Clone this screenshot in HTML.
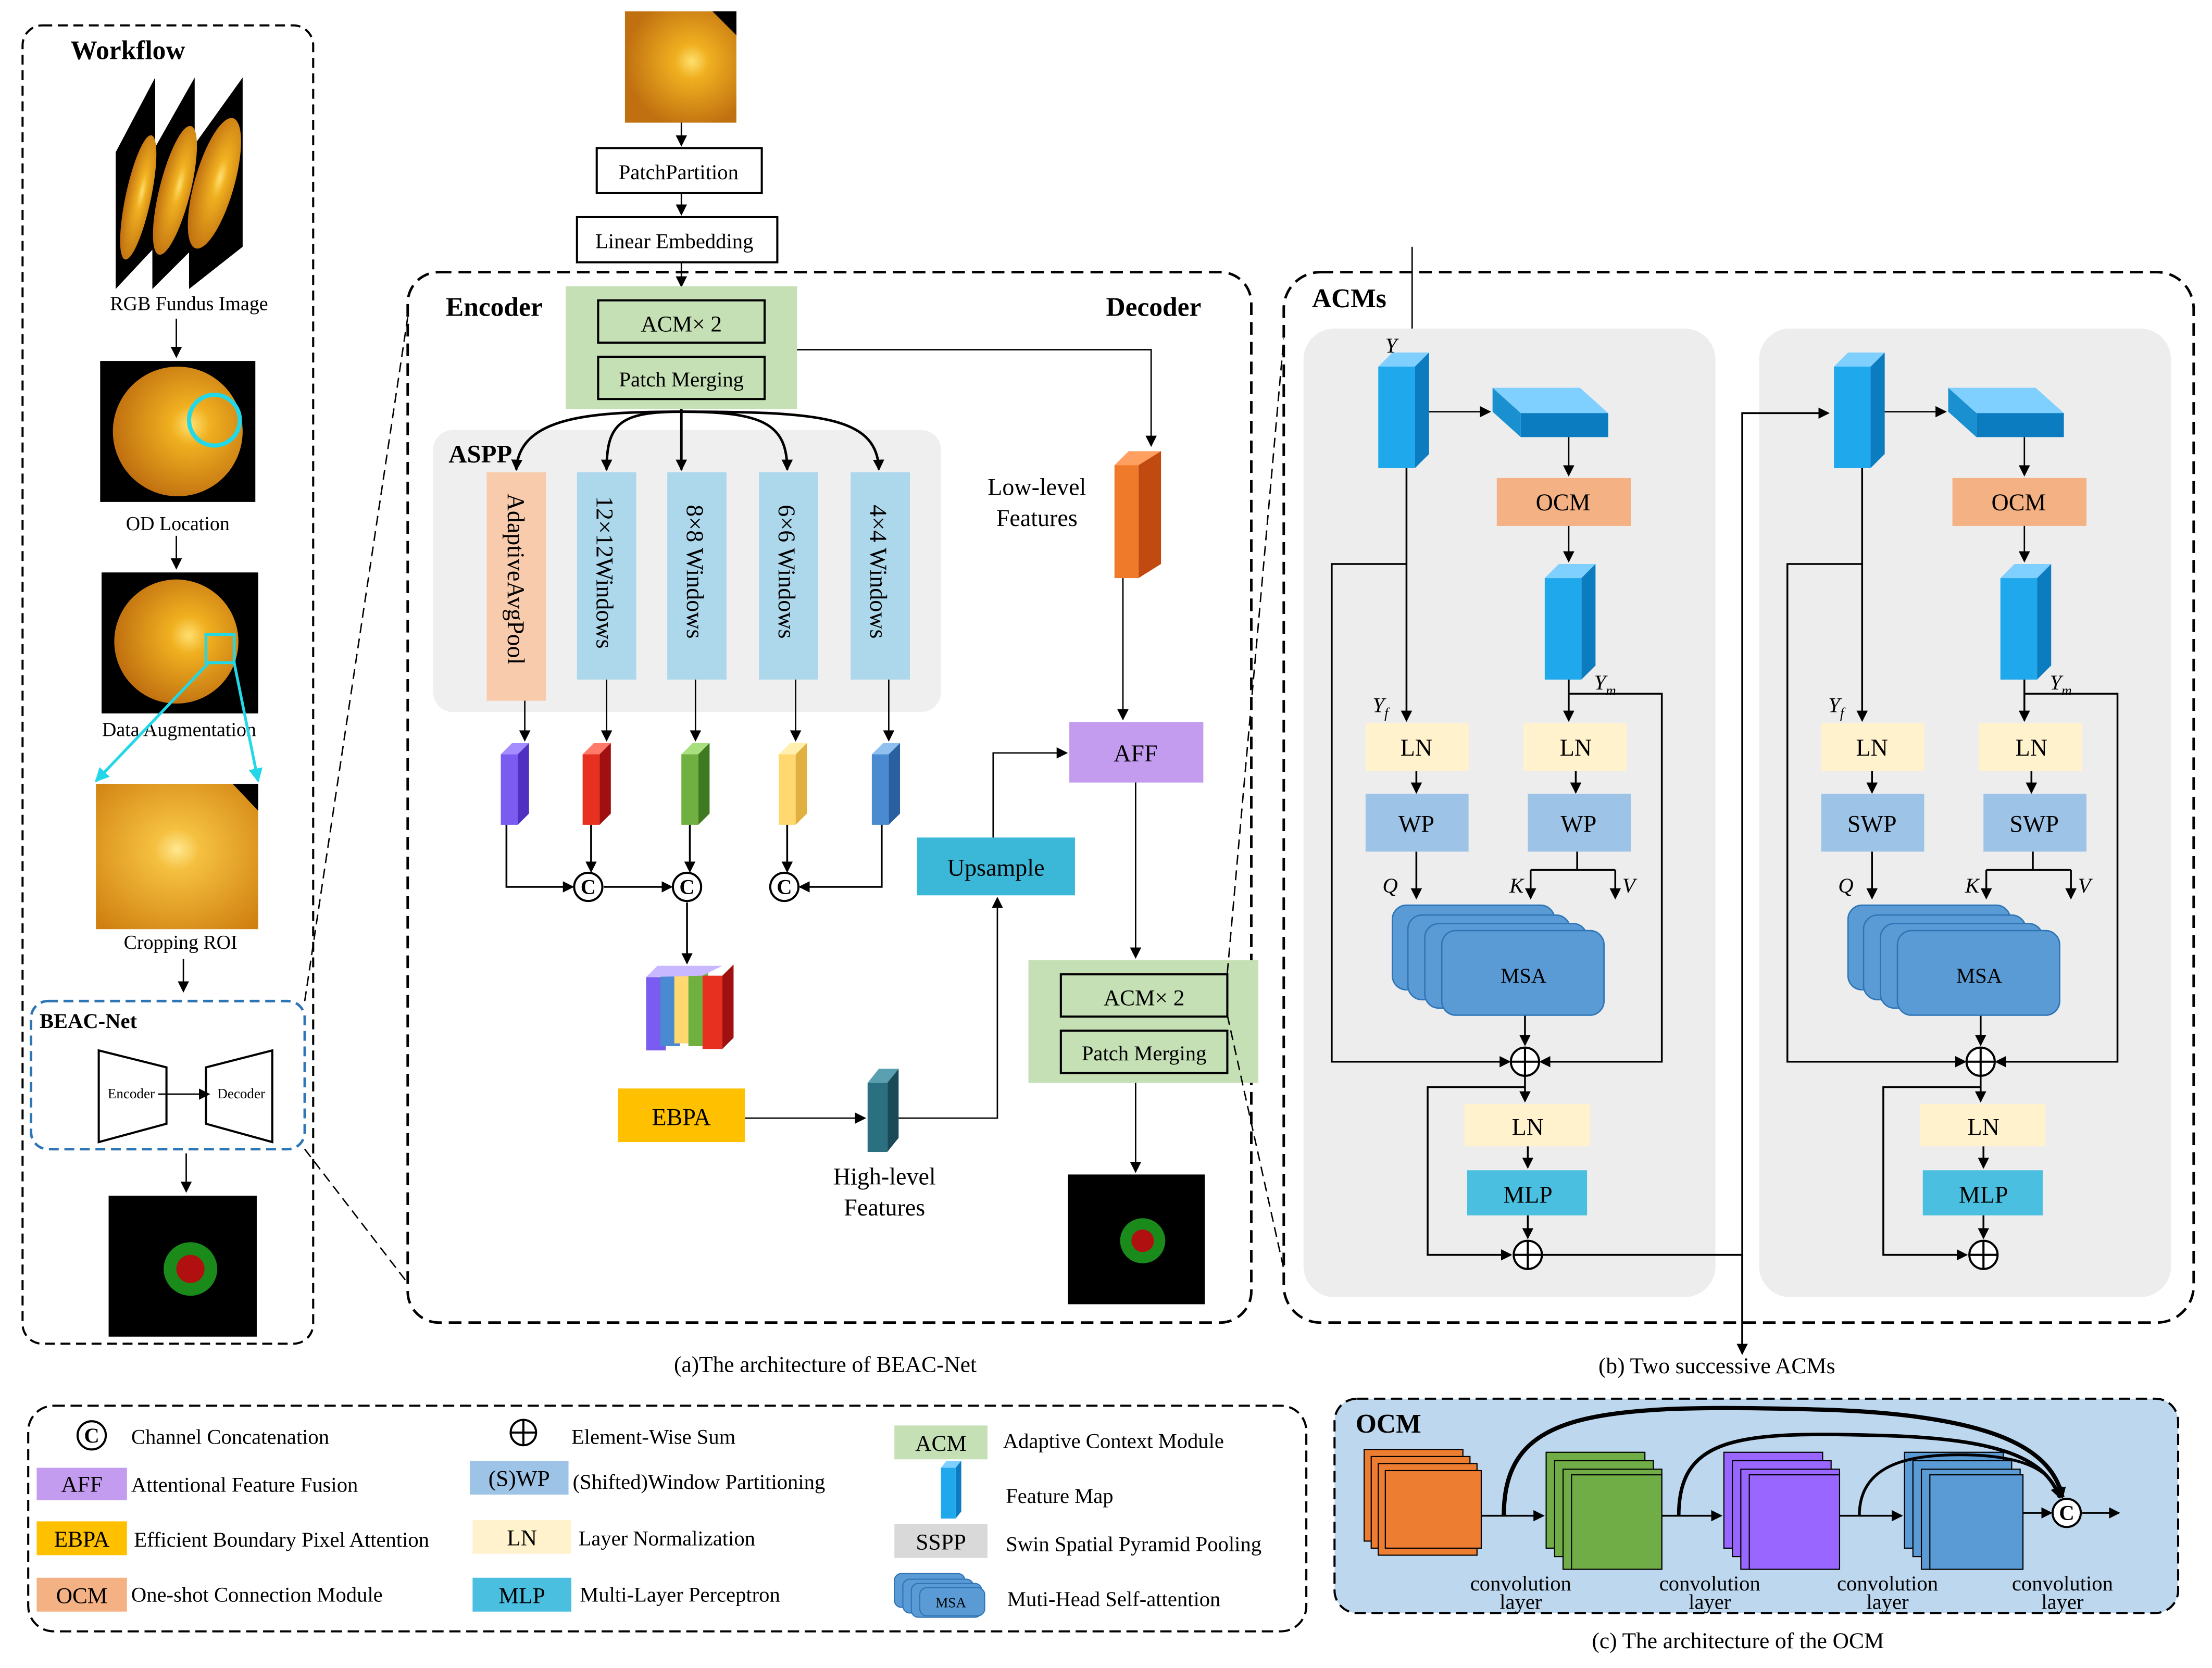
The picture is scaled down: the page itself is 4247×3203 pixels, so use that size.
<!DOCTYPE html>
<html><head><meta charset="utf-8"><style>
html,body{margin:0;padding:0;background:#fff}
svg{display:block}
text{font-family:"Liberation Serif",serif;fill:#000}
</style></head><body>
<svg width="4247" height="3203" viewBox="0 0 1568 1183" preserveAspectRatio="none" xmlns="http://www.w3.org/2000/svg">
<defs>
<marker id="a" markerWidth="8" markerHeight="8" refX="7" refY="4" orient="auto" markerUnits="userSpaceOnUse"><path d="M0,0 L8,4 L0,8 z" fill="#000"/></marker>
<marker id="ac" markerWidth="10" markerHeight="10" refX="9" refY="5" orient="auto" markerUnits="userSpaceOnUse"><path d="M0,0 L10,5 L0,10 z" fill="#22d8e8"/></marker>
<radialGradient id="fund" cx="0.6" cy="0.45" r="0.6"><stop offset="0" stop-color="#ffe070"/><stop offset="0.25" stop-color="#f0b020"/><stop offset="1" stop-color="#c07010"/></radialGradient>
<radialGradient id="crop" cx="0.5" cy="0.45" r="0.7"><stop offset="0" stop-color="#ffe890"/><stop offset="0.2" stop-color="#f5c040"/><stop offset="1" stop-color="#d08010"/></radialGradient>
<g id="cubeB"><path d="M0,10 L10,0 L36,0 L26,10z" fill="#7fd0ff"/><path d="M26,10 L36,0 L36,72 L26,82z" fill="#0c7cc0"/><rect x="0" y="10" width="26" height="72" fill="#20a8ec"/></g>
</defs>
<rect width="1568" height="1183" fill="#fff"/>

<!-- LEFT WORKFLOW -->
<rect x="16" y="18" width="206" height="935" rx="14" fill="none" stroke="#000" stroke-width="1.5" stroke-dasharray="7,4"/>
<text x="50" y="42" font-size="19" font-weight="bold">Workflow</text>
<path d="M82,108 L110,55 L110,175 L82,205z" fill="#000"/>
<path d="M108,108 L138,55 L138,175 L108,205z" fill="#000"/>
<path d="M134,108 L172,55 L172,175 L134,205z" fill="#000"/>
<ellipse cx="98" cy="140" rx="9" ry="45" fill="url(#fund)" transform="rotate(12 98 140)"/>
<ellipse cx="124" cy="135" rx="11" ry="47" fill="url(#fund)" transform="rotate(14 124 135)"/>
<ellipse cx="152" cy="130" rx="14" ry="48" fill="url(#fund)" transform="rotate(16 152 130)"/>
<text x="134" y="220" font-size="14" text-anchor="middle">RGB Fundus Image</text>
<line x1="125" y1="226" x2="125" y2="253" stroke="#000" marker-end="url(#a)"/>
<rect x="71" y="256" width="110" height="100" fill="#000"/>
<circle cx="126" cy="306" r="46" fill="url(#fund)"/>
<circle cx="152" cy="298" r="18" fill="none" stroke="#22d8e8" stroke-width="3"/>
<text x="126" y="376" font-size="14" text-anchor="middle">OD Location</text>
<line x1="125" y1="380" x2="125" y2="403" stroke="#000" marker-end="url(#a)"/>
<rect x="72" y="406" width="111" height="100" fill="#000"/>
<circle cx="125" cy="455" r="44" fill="url(#fund)"/>
<rect x="146" y="450" width="20" height="20" fill="none" stroke="#22d8e8" stroke-width="2"/>
<text x="127" y="522" font-size="14" text-anchor="middle">Data Augmentation</text>
<line x1="148" y1="470" x2="68" y2="554" stroke="#22d8e8" stroke-width="2" marker-end="url(#ac)"/>
<line x1="166" y1="470" x2="183" y2="554" stroke="#22d8e8" stroke-width="2" marker-end="url(#ac)"/>
<rect x="68" y="556" width="115" height="103" fill="url(#crop)"/>
<path d="M165,556 L183,556 L183,575z" fill="#000"/>
<text x="128" y="673" font-size="14" text-anchor="middle">Cropping ROI</text>
<line x1="130" y1="680" x2="130" y2="703" stroke="#000" marker-end="url(#a)"/>
<rect x="22" y="710" width="194" height="105" rx="12" fill="none" stroke="#2e75b6" stroke-width="1.8" stroke-dasharray="7,4"/>
<text x="28" y="729" font-size="15" font-weight="bold">BEAC-Net</text>
<path d="M70,745 L118,757 L118,797 L70,810z" fill="#fff" stroke="#000" stroke-width="1.5"/>
<path d="M146,757 L193,745 L193,810 L146,797z" fill="#fff" stroke="#000" stroke-width="1.5"/>
<text x="93" y="779" font-size="10" text-anchor="middle">Encoder</text>
<text x="171" y="779" font-size="10" text-anchor="middle">Decoder</text>
<line x1="112" y1="776" x2="148" y2="776" stroke="#000" marker-end="url(#a)"/>
<line x1="132" y1="818" x2="132" y2="845" stroke="#000" marker-end="url(#a)"/>
<rect x="77" y="848" width="105" height="100" fill="#000"/>
<circle cx="135" cy="900" r="19" fill="#1a8a1a"/><circle cx="135" cy="900" r="10" fill="#b01010"/>
<line x1="216" y1="710" x2="289" y2="225" stroke="#000" stroke-dasharray="7,4"/>
<line x1="216" y1="815" x2="289" y2="910" stroke="#000" stroke-dasharray="7,4"/>

<!-- MIDDLE -->
<rect x="443" y="8" width="79" height="79" fill="url(#fund)"/>
<path d="M505,8 L522,8 L522,25z" fill="#000"/>
<line x1="483" y1="87" x2="483" y2="103" stroke="#000" marker-end="url(#a)"/>
<rect x="423" y="105" width="117" height="32" fill="#fff" stroke="#000" stroke-width="1.5"/>
<text x="481" y="127" font-size="15" text-anchor="middle">PatchPartition</text>
<line x1="483" y1="137" x2="483" y2="152" stroke="#000" marker-end="url(#a)"/>
<rect x="409" y="154" width="142" height="32" fill="#fff" stroke="#000" stroke-width="1.5"/>
<text x="478" y="176" font-size="15" text-anchor="middle">Linear Embedding</text>
<line x1="483" y1="186" x2="483" y2="203" stroke="#000" marker-end="url(#a)"/>
<rect x="289" y="193" width="598" height="745" rx="22" fill="none" stroke="#000" stroke-width="1.8" stroke-dasharray="9,5"/>
<text x="316" y="224" font-size="19" font-weight="bold">Encoder</text>
<text x="784" y="224" font-size="19" font-weight="bold">Decoder</text>
<rect x="401" y="203" width="164" height="87" fill="#c5e0b4"/>
<rect x="424" y="213" width="118" height="30" fill="none" stroke="#000" stroke-width="1.5"/>
<text x="483" y="235" font-size="16" text-anchor="middle">ACM× 2</text>
<rect x="424" y="253" width="118" height="30" fill="none" stroke="#000" stroke-width="1.5"/>
<text x="483" y="274" font-size="15" text-anchor="middle">Patch Merging</text>
<polyline points="565,248 816,248 816,316" fill="none" stroke="#000" marker-end="url(#a)"/>
<rect x="307" y="305" width="360" height="200" rx="14" fill="#efefef"/>
<text x="318" y="328" font-size="18" font-weight="bold">ASPP</text>
<path d="M483,292 C420,292 368,295 366,333" fill="none" stroke="#000" stroke-width="1.8" marker-end="url(#a)"/>
<path d="M483,292 C440,292 430,300 430,333" fill="none" stroke="#000" stroke-width="1.8" marker-end="url(#a)"/>
<line x1="483" y1="290" x2="483" y2="333" stroke="#000" stroke-width="1.8" marker-end="url(#a)"/>
<path d="M483,292 C540,292 558,300 558,333" fill="none" stroke="#000" stroke-width="1.8" marker-end="url(#a)"/>
<path d="M483,292 C580,292 622,295 623,333" fill="none" stroke="#000" stroke-width="1.8" marker-end="url(#a)"/>
<rect x="345" y="335" width="42" height="162" fill="#f8cbad"/>
<rect x="409" y="335" width="42" height="147" fill="#add8ec"/>
<rect x="473" y="335" width="42" height="147" fill="#add8ec"/>
<rect x="538" y="335" width="42" height="147" fill="#add8ec"/>
<rect x="603" y="335" width="42" height="147" fill="#add8ec"/>
<g font-size="17">
<text transform="translate(360,350) rotate(90)">AdaptiveAvgPool</text>
<text transform="translate(423,352) rotate(90)">12×12Windows</text>
<text transform="translate(487,358) rotate(90)">8×8 Windows</text>
<text transform="translate(552,358) rotate(90)">6×6 Windows</text>
<text transform="translate(617,358) rotate(90)">4×4 Windows</text>
</g>
<g stroke="#000" fill="none">
<line x1="372" y1="497" x2="372" y2="525" marker-end="url(#a)"/>
<line x1="430" y1="482" x2="430" y2="525" marker-end="url(#a)"/>
<line x1="493" y1="482" x2="493" y2="525" marker-end="url(#a)"/>
<line x1="564" y1="482" x2="564" y2="525" marker-end="url(#a)"/>
<line x1="630" y1="482" x2="630" y2="525" marker-end="url(#a)"/>
</g>
<g>
<path d="M355,535 L363,527 L375,527 L367,535z" fill="#a58cff"/><path d="M367,535 L375,527 L375,577 L367,585z" fill="#5030c0"/><rect x="355" y="535" width="12" height="50" fill="#7b5cf0"/>
<path d="M413,535 L421,527 L433,527 L425,535z" fill="#ff7a6a"/><path d="M425,535 L433,527 L433,577 L425,585z" fill="#a01010"/><rect x="413" y="535" width="12" height="50" fill="#e83020"/>
<path d="M483,535 L491,527 L503,527 L495,535z" fill="#a8e080"/><path d="M495,535 L503,527 L503,577 L495,585z" fill="#3f7a20"/><rect x="483" y="535" width="12" height="50" fill="#70b040"/>
<path d="M552,535 L560,527 L572,527 L564,535z" fill="#fff0b0"/><path d="M564,535 L572,527 L572,577 L564,585z" fill="#e0b040"/><rect x="552" y="535" width="12" height="50" fill="#ffd870"/>
<path d="M618,535 L626,527 L638,527 L630,535z" fill="#90c0f0"/><path d="M630,535 L638,527 L638,577 L630,585z" fill="#2a5fa0"/><rect x="618" y="535" width="12" height="50" fill="#4a8ad0"/>
</g>
<g stroke="#000" fill="none" stroke-width="1.3">
<polyline points="359,585 359,629 406,629" marker-end="url(#a)"/>
<line x1="419" y1="585" x2="419" y2="618" marker-end="url(#a)"/>
<line x1="428" y1="629" x2="476" y2="629" marker-end="url(#a)"/>
<line x1="489" y1="585" x2="489" y2="618" marker-end="url(#a)"/>
<line x1="558" y1="585" x2="558" y2="618" marker-end="url(#a)"/>
<polyline points="625,585 625,629 567,629" marker-end="url(#a)"/>
<line x1="487" y1="640" x2="487" y2="683" marker-end="url(#a)"/>
</g>
<g fill="#fff" stroke="#000" stroke-width="1.5">
<circle cx="417" cy="629" r="10"/><circle cx="487" cy="629" r="10"/><circle cx="556" cy="629" r="10"/>
</g>
<g font-size="15" font-weight="bold" text-anchor="middle"><text x="417" y="634">C</text><text x="487" y="634">C</text><text x="556" y="634">C</text></g>
<g>
<rect x="458" y="693" width="14" height="52" fill="#7b5cf0"/><rect x="468" y="690" width="14" height="52" fill="#4a8ad0"/><rect x="478" y="688" width="14" height="52" fill="#ffd870"/><rect x="488" y="690" width="14" height="52" fill="#70b040"/><rect x="498" y="692" width="14" height="52" fill="#e83020"/><path d="M512,692 L520,684 L520,736 L512,744z" fill="#a01010"/>
<path d="M458,693 L466,685 L512,685 L498,692z" fill="#c8b8ff"/>
</g>
<rect x="438" y="772" width="90" height="38" fill="#ffc000"/>
<text x="483" y="798" font-size="17" text-anchor="middle" font-family="Liberation Sans">EBPA</text>
<line x1="528" y1="793" x2="613" y2="793" stroke="#000" marker-end="url(#a)"/>
<path d="M615,768 L623,758 L637,758 L629,768z" fill="#5aa0b0"/><path d="M629,768 L637,758 L637,807 L629,817z" fill="#1a4a58"/><rect x="615" y="768" width="14" height="49" fill="#2a7080"/>
<text x="627" y="840" font-size="17" text-anchor="middle">High-level</text>
<text x="627" y="862" font-size="17" text-anchor="middle">Features</text>
<polyline points="637,793 707,793 707,637" fill="none" stroke="#000" marker-end="url(#a)"/>
<rect x="650" y="594" width="112" height="41" fill="#3bb8d8"/>
<text x="706" y="621" font-size="17" text-anchor="middle" font-family="Liberation Sans">Upsample</text>
<polyline points="704,594 704,534 756,534" fill="none" stroke="#000" marker-end="url(#a)"/>
<rect x="758" y="512" width="95" height="43" fill="#c39cf0"/>
<text x="805" y="540" font-size="17" text-anchor="middle" font-family="Liberation Sans">AFF</text>
<path d="M790,330 L800,320 L823,320 L813,330z" fill="#ffa060"/><path d="M807,330 L823,320 L823,400 L807,410z" fill="#c04a10"/><rect x="790" y="330" width="17" height="80" fill="#ee7a2a"/>
<text x="735" y="351" font-size="17" text-anchor="middle">Low-level</text>
<text x="735" y="373" font-size="17" text-anchor="middle">Features</text>
<line x1="796" y1="410" x2="796" y2="510" stroke="#000" marker-end="url(#a)"/>
<line x1="805" y1="555" x2="805" y2="679" stroke="#000" marker-end="url(#a)"/>
<rect x="729" y="681" width="163" height="87" fill="#c5e0b4"/>
<rect x="752" y="691" width="118" height="30" fill="none" stroke="#000" stroke-width="1.5"/>
<text x="811" y="713" font-size="16" text-anchor="middle">ACM× 2</text>
<rect x="752" y="731" width="118" height="30" fill="none" stroke="#000" stroke-width="1.5"/>
<text x="811" y="752" font-size="15" text-anchor="middle">Patch Merging</text>
<line x1="805" y1="768" x2="805" y2="831" stroke="#000" marker-end="url(#a)"/>
<rect x="757" y="833" width="97" height="92" fill="#000"/>
<circle cx="810" cy="880" r="16" fill="#1a8a1a"/><circle cx="810" cy="880" r="8" fill="#b01010"/>
<line x1="870" y1="720" x2="910" y2="900" stroke="#000" stroke-dasharray="7,4"/>
<line x1="870" y1="690" x2="910" y2="240" stroke="#000" stroke-dasharray="7,4"/>
<text x="585" y="973" font-size="16" text-anchor="middle">(a)The architecture of BEAC-Net</text>

<!-- ACMs -->
<rect x="910" y="193" width="645" height="745" rx="26" fill="#fff" stroke="#000" stroke-width="1.8" stroke-dasharray="9,5"/>
<text x="930" y="218" font-size="19" font-weight="bold">ACMs</text>
<line x1="1001" y1="175" x2="1001" y2="248" stroke="#000" marker-end="url(#a)"/>
<g>
<rect x="924" y="233" width="292" height="687" rx="22" fill="#ededed"/>
<text x="982" y="250" font-size="15" font-style="italic">Y</text>
<use href="#cubeB" x="977" y="250"/>
<line x1="1013" y1="292" x2="1056" y2="292" stroke="#000" marker-end="url(#a)"/>
<path d="M1058,275 L1120,275 L1140,293 L1078,293z" fill="#7fd0ff"/><path d="M1078,293 L1140,293 L1140,310 L1078,310z" fill="#0c7cc0"/><path d="M1058,275 L1078,293 L1078,310 L1058,292z" fill="#1a90d0"/>
<line x1="1112" y1="310" x2="1112" y2="337" stroke="#000" marker-end="url(#a)"/>
<rect x="1061" y="339" width="95" height="34" fill="#f4b183"/>
<text x="1108" y="362" font-size="17" text-anchor="middle" font-family="Liberation Sans">OCM</text>
<line x1="1112" y1="373" x2="1112" y2="398" stroke="#000" marker-end="url(#a)"/>
<use href="#cubeB" x="1095" y="400"/>
<g stroke="#000" fill="none" stroke-width="1.3">
<line x1="1112" y1="482" x2="1112" y2="511" marker-end="url(#a)"/>
<polyline points="1112,492 1178,492 1178,753 1092,753" marker-end="url(#a)"/>
<line x1="997" y1="332" x2="997" y2="511" marker-end="url(#a)"/>
<polyline points="997,400 944,400 944,753 1070,753" marker-end="url(#a)"/>
<line x1="1004" y1="547" x2="1004" y2="562" marker-end="url(#a)"/>
<line x1="1117" y1="547" x2="1117" y2="562" marker-end="url(#a)"/>
<line x1="1004" y1="604" x2="1004" y2="637" marker-end="url(#a)"/>
<line x1="1118" y1="604" x2="1118" y2="617"/>
<polyline points="1085,617 1145,617"/>
<line x1="1085" y1="617" x2="1085" y2="637" marker-end="url(#a)"/>
<line x1="1145" y1="617" x2="1145" y2="637" marker-end="url(#a)"/>
<line x1="1081" y1="720" x2="1081" y2="741" marker-end="url(#a)"/>
<line x1="1081" y1="763" x2="1081" y2="781" marker-end="url(#a)"/>
<polyline points="1081,771 1012,771 1012,890 1071,890" marker-end="url(#a)"/>
<line x1="1083" y1="813" x2="1083" y2="828" marker-end="url(#a)"/>
<line x1="1083" y1="862" x2="1083" y2="878" marker-end="url(#a)"/>
</g>
<text x="973" y="505" font-size="15" font-style="italic">Y<tspan font-size="10" dy="4">f</tspan></text>
<text x="1130" y="489" font-size="15" font-style="italic">Y<tspan font-size="10" dy="4">m</tspan></text>
<rect x="968" y="513" width="73" height="34" fill="#fff2cc"/>
<rect x="1080" y="513" width="73" height="34" fill="#fff2cc"/>
<text x="1004" y="536" font-size="17" text-anchor="middle" font-family="Liberation Sans">LN</text>
<text x="1117" y="536" font-size="17" text-anchor="middle" font-family="Liberation Sans">LN</text>
<rect x="968" y="563" width="73" height="41" fill="#9dc3e6"/>
<rect x="1083" y="563" width="73" height="41" fill="#9dc3e6"/>
<text x="1004" y="590" font-size="17" text-anchor="middle" font-family="Liberation Sans">WP</text>
<text x="1119" y="590" font-size="17" text-anchor="middle" font-family="Liberation Sans">WP</text>
<text x="980" y="633" font-size="15" font-style="italic">Q</text>
<text x="1070" y="633" font-size="15" font-style="italic">K</text>
<text x="1150" y="633" font-size="15" font-style="italic">V</text>
<g stroke="#2e75b6" stroke-width="1" fill="#5b9bd5">
<rect x="987" y="642" width="115" height="60" rx="10"/>
<rect x="998" y="649" width="115" height="60" rx="10"/>
<rect x="1010" y="655" width="115" height="60" rx="10"/>
<rect x="1022" y="660" width="115" height="60" rx="10"/>
</g>
<text x="1080" y="697" font-size="15" text-anchor="middle" font-family="Liberation Sans">MSA</text>
<circle cx="1081" cy="753" r="10" fill="#fff" stroke="#000" stroke-width="1.5"/>
<path d="M1071,753 H1091 M1081,743 V763" stroke="#000" stroke-width="1.5"/>
<rect x="1038" y="783" width="89" height="30" fill="#fff2cc"/>
<text x="1083" y="805" font-size="17" text-anchor="middle" font-family="Liberation Sans">LN</text>
<rect x="1040" y="830" width="85" height="32" fill="#4bbfe0"/>
<text x="1083" y="853" font-size="17" text-anchor="middle" font-family="Liberation Sans">MLP</text>
<circle cx="1083" cy="890" r="10" fill="#fff" stroke="#000" stroke-width="1.5"/>
<path d="M1073,890 H1093 M1083,880 V900" stroke="#000" stroke-width="1.5"/>
</g>
<g transform="translate(323,0)">
<rect x="924" y="233" width="292" height="687" rx="22" fill="#ededed"/>
<text x="982" y="278" font-size="15" font-style="italic">Y</text>
<use href="#cubeB" x="977" y="250"/>
<line x1="1013" y1="292" x2="1056" y2="292" stroke="#000" marker-end="url(#a)"/>
<path d="M1058,275 L1120,275 L1140,293 L1078,293z" fill="#7fd0ff"/><path d="M1078,293 L1140,293 L1140,310 L1078,310z" fill="#0c7cc0"/><path d="M1058,275 L1078,293 L1078,310 L1058,292z" fill="#1a90d0"/>
<line x1="1112" y1="310" x2="1112" y2="337" stroke="#000" marker-end="url(#a)"/>
<rect x="1061" y="339" width="95" height="34" fill="#f4b183"/>
<text x="1108" y="362" font-size="17" text-anchor="middle" font-family="Liberation Sans">OCM</text>
<line x1="1112" y1="373" x2="1112" y2="398" stroke="#000" marker-end="url(#a)"/>
<use href="#cubeB" x="1095" y="400"/>
<g stroke="#000" fill="none" stroke-width="1.3">
<line x1="1112" y1="482" x2="1112" y2="511" marker-end="url(#a)"/>
<polyline points="1112,492 1178,492 1178,753 1092,753" marker-end="url(#a)"/>
<line x1="997" y1="332" x2="997" y2="511" marker-end="url(#a)"/>
<polyline points="997,400 944,400 944,753 1070,753" marker-end="url(#a)"/>
<line x1="1004" y1="547" x2="1004" y2="562" marker-end="url(#a)"/>
<line x1="1117" y1="547" x2="1117" y2="562" marker-end="url(#a)"/>
<line x1="1004" y1="604" x2="1004" y2="637" marker-end="url(#a)"/>
<line x1="1118" y1="604" x2="1118" y2="617"/>
<polyline points="1085,617 1145,617"/>
<line x1="1085" y1="617" x2="1085" y2="637" marker-end="url(#a)"/>
<line x1="1145" y1="617" x2="1145" y2="637" marker-end="url(#a)"/>
<line x1="1081" y1="720" x2="1081" y2="741" marker-end="url(#a)"/>
<line x1="1081" y1="763" x2="1081" y2="781" marker-end="url(#a)"/>
<polyline points="1081,771 1012,771 1012,890 1071,890" marker-end="url(#a)"/>
<line x1="1083" y1="813" x2="1083" y2="828" marker-end="url(#a)"/>
<line x1="1083" y1="862" x2="1083" y2="878" marker-end="url(#a)"/>
</g>
<text x="973" y="505" font-size="15" font-style="italic">Y<tspan font-size="10" dy="4">f</tspan></text>
<text x="1130" y="489" font-size="15" font-style="italic">Y<tspan font-size="10" dy="4">m</tspan></text>
<rect x="968" y="513" width="73" height="34" fill="#fff2cc"/>
<rect x="1080" y="513" width="73" height="34" fill="#fff2cc"/>
<text x="1004" y="536" font-size="17" text-anchor="middle" font-family="Liberation Sans">LN</text>
<text x="1117" y="536" font-size="17" text-anchor="middle" font-family="Liberation Sans">LN</text>
<rect x="968" y="563" width="73" height="41" fill="#9dc3e6"/>
<rect x="1083" y="563" width="73" height="41" fill="#9dc3e6"/>
<text x="1004" y="590" font-size="17" text-anchor="middle" font-family="Liberation Sans">SWP</text>
<text x="1119" y="590" font-size="17" text-anchor="middle" font-family="Liberation Sans">SWP</text>
<text x="980" y="633" font-size="15" font-style="italic">Q</text>
<text x="1070" y="633" font-size="15" font-style="italic">K</text>
<text x="1150" y="633" font-size="15" font-style="italic">V</text>
<g stroke="#2e75b6" stroke-width="1" fill="#5b9bd5">
<rect x="987" y="642" width="115" height="60" rx="10"/>
<rect x="998" y="649" width="115" height="60" rx="10"/>
<rect x="1010" y="655" width="115" height="60" rx="10"/>
<rect x="1022" y="660" width="115" height="60" rx="10"/>
</g>
<text x="1080" y="697" font-size="15" text-anchor="middle" font-family="Liberation Sans">MSA</text>
<circle cx="1081" cy="753" r="10" fill="#fff" stroke="#000" stroke-width="1.5"/>
<path d="M1071,753 H1091 M1081,743 V763" stroke="#000" stroke-width="1.5"/>
<rect x="1038" y="783" width="89" height="30" fill="#fff2cc"/>
<text x="1083" y="805" font-size="17" text-anchor="middle" font-family="Liberation Sans">LN</text>
<rect x="1040" y="830" width="85" height="32" fill="#4bbfe0"/>
<text x="1083" y="853" font-size="17" text-anchor="middle" font-family="Liberation Sans">MLP</text>
<circle cx="1083" cy="890" r="10" fill="#fff" stroke="#000" stroke-width="1.5"/>
<path d="M1073,890 H1093 M1083,880 V900" stroke="#000" stroke-width="1.5"/>
</g>
<g stroke="#000" fill="none" stroke-width="1.3">
<polyline points="1093,890 1235,890"/>
<polyline points="1235,960 1235,293 1296,293" marker-end="url(#a)"/>
<line x1="1235" y1="890" x2="1235" y2="960" marker-end="url(#a)"/>
</g>
<text x="1217" y="974" font-size="16" text-anchor="middle">(b) Two successive ACMs</text>

<!-- OCM -->
<rect x="946" y="992" width="598" height="152" rx="16" fill="#bdd7ee" stroke="#000" stroke-width="1.5" stroke-dasharray="8,4"/>
<text x="961" y="1016" font-size="19" font-weight="bold">OCM</text>
<g stroke="#000" stroke-width="0.8">
<rect x="967" y="1028" width="70" height="65" fill="#ed7d31"/><rect x="972" y="1033" width="70" height="65" fill="#ed7d31"/><rect x="977" y="1038" width="70" height="65" fill="#ed7d31"/><rect x="982" y="1043" width="68" height="55" fill="#ed7d31"/>
<rect x="1096" y="1030" width="70" height="68" fill="#70ad47"/><rect x="1102" y="1036" width="70" height="68" fill="#70ad47"/><rect x="1108" y="1042" width="70" height="71" fill="#70ad47"/><rect x="1114" y="1046" width="64" height="67" fill="#70ad47"/>
<rect x="1222" y="1030" width="70" height="68" fill="#9966ff"/><rect x="1228" y="1036" width="70" height="68" fill="#9966ff"/><rect x="1234" y="1042" width="70" height="71" fill="#9966ff"/><rect x="1240" y="1046" width="64" height="67" fill="#9966ff"/>
<rect x="1350" y="1030" width="70" height="68" fill="#5b9bd5"/><rect x="1356" y="1036" width="70" height="68" fill="#5b9bd5"/><rect x="1362" y="1042" width="70" height="71" fill="#5b9bd5"/><rect x="1368" y="1046" width="66" height="67" fill="#5b9bd5"/>
</g>
<g stroke="#000" fill="none" stroke-width="1.3">
<line x1="1050" y1="1075" x2="1094" y2="1075" marker-end="url(#a)"/>
<line x1="1178" y1="1075" x2="1220" y2="1075" marker-end="url(#a)"/>
<line x1="1304" y1="1075" x2="1348" y2="1075" marker-end="url(#a)"/>
<line x1="1434" y1="1073" x2="1454" y2="1073" marker-end="url(#a)"/>
<line x1="1476" y1="1073" x2="1502" y2="1073" marker-end="url(#a)"/>
<path d="M1066,1075 C1066,1000 1130,995 1300,1000 C1420,1005 1455,1030 1462,1062" stroke-width="3" marker-end="url(#a)"/>
<path d="M1190,1075 C1190,1020 1230,1015 1330,1018 C1420,1020 1450,1035 1460,1062" stroke-width="2.5" marker-end="url(#a)"/>
<path d="M1318,1075 C1318,1040 1350,1030 1400,1032 C1440,1034 1455,1045 1460,1062" stroke-width="2" marker-end="url(#a)"/>
</g>
<circle cx="1465" cy="1073" r="10" fill="#fff" stroke="#000" stroke-width="1.5"/>
<text x="1465" y="1078" font-size="15" font-weight="bold" text-anchor="middle">C</text>
<g font-size="15" text-anchor="middle">
<text x="1078" y="1128">convolution</text><text x="1078" y="1141">layer</text>
<text x="1212" y="1128">convolution</text><text x="1212" y="1141">layer</text>
<text x="1338" y="1128">convolution</text><text x="1338" y="1141">layer</text>
<text x="1462" y="1128">convolution</text><text x="1462" y="1141">layer</text>
</g>
<text x="1232" y="1169" font-size="16" text-anchor="middle">(c) The architecture of the OCM</text>

<!-- LEGEND -->
<rect x="20" y="997" width="906" height="160" rx="18" fill="none" stroke="#000" stroke-width="1.5" stroke-dasharray="8,4"/>
<g font-size="15">
<circle cx="65" cy="1018" r="10" fill="#fff" stroke="#000" stroke-width="1.5"/><text x="65" y="1023" text-anchor="middle" font-weight="bold">C</text>
<text x="93" y="1024">Channel Concatenation</text>
<rect x="26" y="1041" width="64" height="23" fill="#c39cf0"/><text x="58" y="1058" text-anchor="middle" font-family="Liberation Sans" font-size="16">AFF</text>
<text x="93" y="1058">Attentional Feature Fusion</text>
<rect x="26" y="1079" width="64" height="24" fill="#ffc000"/><text x="58" y="1097" text-anchor="middle" font-family="Liberation Sans" font-size="16">EBPA</text>
<text x="95" y="1097">Efficient Boundary Pixel Attention</text>
<rect x="26" y="1119" width="64" height="24" fill="#f4b183"/><text x="58" y="1137" text-anchor="middle" font-family="Liberation Sans" font-size="16">OCM</text>
<text x="93" y="1136">One-shot Connection Module</text>
<circle cx="371" cy="1016" r="9" fill="#fff" stroke="#000" stroke-width="1.5"/><path d="M362,1016 H380 M371,1007 V1025" stroke="#000" stroke-width="1.5"/>
<text x="405" y="1024">Element-Wise Sum</text>
<rect x="333" y="1036" width="70" height="24" fill="#9dc3e6"/><text x="368" y="1054" text-anchor="middle" font-family="Liberation Sans" font-size="16">(S)WP</text>
<text x="406" y="1056">(Shifted)Window Partitioning</text>
<rect x="335" y="1078" width="70" height="24" fill="#fff2cc"/><text x="370" y="1096" text-anchor="middle" font-family="Liberation Sans" font-size="16">LN</text>
<text x="410" y="1096">Layer Normalization</text>
<rect x="335" y="1119" width="70" height="24" fill="#4bbfe0"/><text x="370" y="1137" text-anchor="middle" font-family="Liberation Sans" font-size="16">MLP</text>
<text x="411" y="1136">Multi-Layer Perceptron</text>
<rect x="634" y="1011" width="66" height="24" fill="#c5e0b4"/><text x="667" y="1029" text-anchor="middle" font-family="Liberation Sans" font-size="16">ACM</text>
<text x="711" y="1027">Adaptive Context Module</text>
<use href="#cubeB" transform="translate(667,1036) scale(0.4,0.5)"/>
<text x="713" y="1066">Feature Map</text>
<rect x="634" y="1081" width="66" height="24" fill="#d9d9d9"/><text x="667" y="1099" text-anchor="middle" font-family="Liberation Sans" font-size="16">SSPP</text>
<text x="713" y="1100">Swin Spatial Pyramid Pooling</text>
<g stroke="#2e75b6" stroke-width="0.8" fill="#5b9bd5">
<rect x="634" y="1116" width="50" height="24" rx="5"/><rect x="640" y="1120" width="50" height="24" rx="5"/><rect x="646" y="1123" width="50" height="24" rx="5"/><rect x="652" y="1126" width="46" height="20" rx="5"/>
</g>
<text x="674" y="1140" text-anchor="middle" font-family="Liberation Sans" font-size="10">MSA</text>
<text x="714" y="1139">Muti-Head Self-attention</text>
</g>
</svg>
</body></html>
